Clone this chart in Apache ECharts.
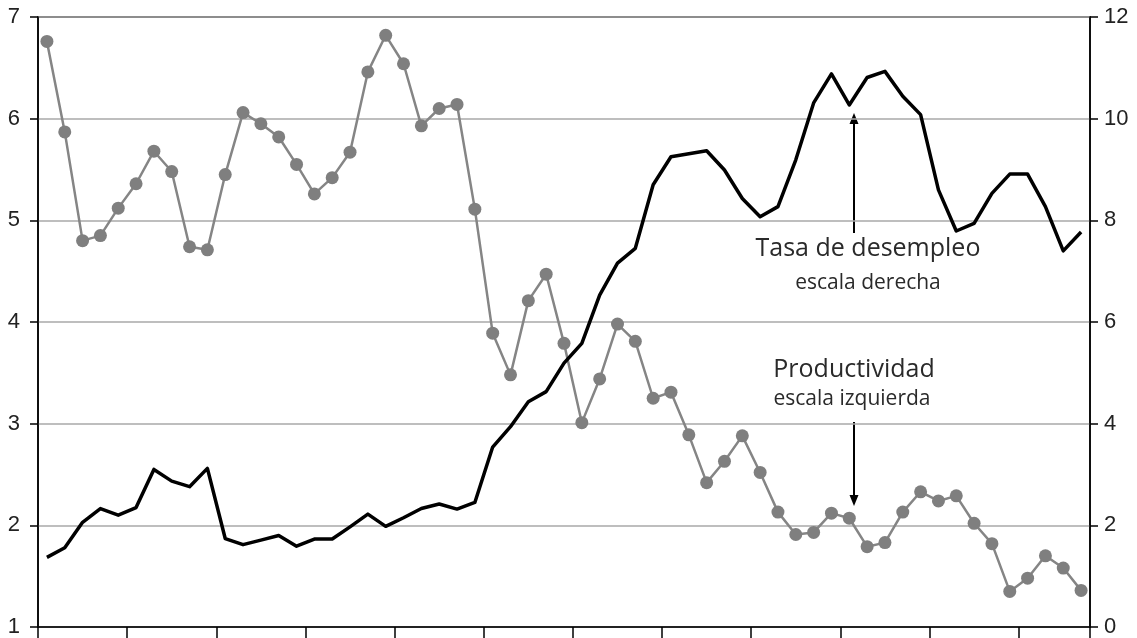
<!DOCTYPE html>
<html>
<head>
<meta charset="utf-8">
<script src="https://cdn.jsdelivr.net/npm/echarts@6/dist/echarts.min.js"></script>
<style>
html,body{margin:0;padding:0;background:#fff;}
#chart{width:1137px;height:638px;}
</style>
</head>
<body>
<div id="chart"></div>
<script>
// Periods (unlabelled on the x axis)
var periods = ["1","2","3","4","5","6","7","8","9","10","11","12","13","14","15","16","17","18","19","20",
"21","22","23","24","25","26","27","28","29","30","31","32","33","34","35","36","37","38","39","40",
"41","42","43","44","45","46","47","48","49","50","51","52","53","54","55","56","57","58","59"];

// Productividad (escala izquierda)
var productividad = [6.76,5.87,4.80,4.85,5.12,5.36,5.68,5.48,4.74,4.71,
5.45,6.06,5.95,5.82,5.55,5.26,5.42,5.67,6.46,6.82,
6.54,5.93,6.10,6.14,5.11,3.89,3.48,4.21,4.47,3.79,
3.01,3.44,3.98,3.81,3.25,3.31,2.89,2.42,2.63,2.88,
2.52,2.13,1.91,1.93,2.12,2.07,1.79,1.83,2.13,2.33,
2.24,2.29,2.02,1.82,1.35,1.48,1.70,1.58,1.36];

// Tasa de desempleo (escala derecha)
var desempleo = [1.37,1.56,2.06,2.33,2.20,2.35,3.10,2.87,2.76,3.12,
1.74,1.62,1.71,1.80,1.59,1.73,1.73,1.97,2.22,1.98,
2.15,2.33,2.42,2.32,2.45,3.54,3.94,4.43,4.63,5.19,
5.58,6.53,7.16,7.45,8.70,9.25,9.31,9.37,8.99,8.43,
8.07,8.27,9.19,10.31,10.88,10.27,10.81,10.93,10.44,10.08,
8.60,7.79,7.94,8.53,8.91,8.91,8.27,7.40,7.77];

var leftTicks = {min: 1, max: 7, interval: 1};
var rightTicks = {min: 0, max: 12, interval: 2};

var annFont = '"Open Sans", "Noto Sans", sans-serif';

var chart = echarts.init(document.getElementById('chart'), null, {renderer: 'canvas'});
var option = {
  animation: false,
  backgroundColor: '#fff',
  grid: {left: 38, right: 47, top: 17, bottom: 11, containLabel: false, show: true, borderColor: '#000', borderWidth: 1.5, backgroundColor: 'transparent'},
  xAxis: {
    type: 'category',
    data: periods,
    boundaryGap: true,
    axisLine: {show: true, lineStyle: {color: '#000', width: 1.5}},
    axisTick: {show: true, interval: 4, length: 11, alignWithLabel: false, lineStyle: {color: '#000', width: 1.5}},
    axisLabel: {show: false},
    splitLine: {show: false}
  },
  yAxis: [{
    type: 'value',
    position: 'left',
    min: leftTicks.min, max: leftTicks.max, interval: leftTicks.interval,
    axisLine: {show: true, lineStyle: {color: '#000', width: 1.5}},
    axisTick: {show: true, length: 8, lineStyle: {color: '#000', width: 1.5}},
    axisLabel: {color: '#222', fontSize: 22, fontFamily: '"Liberation Sans", Arial, sans-serif', margin: 18},
    splitLine: {show: true, lineStyle: {color: '#a8a8a8', width: 1.5}}
  }, {
    type: 'value',
    position: 'right',
    min: rightTicks.min, max: rightTicks.max, interval: rightTicks.interval,
    axisLine: {show: true, lineStyle: {color: '#000', width: 1.5}},
    axisTick: {show: true, length: 8, lineStyle: {color: '#000', width: 1.5}},
    axisLabel: {color: '#222', fontSize: 22, fontFamily: '"Liberation Sans", Arial, sans-serif', margin: 14},
    splitLine: {show: false}
  }],
  series: [{
    name: 'Productividad',
    type: 'line',
    yAxisIndex: 0,
    data: productividad,
    symbol: 'circle',
    symbolSize: 13,
    showAllSymbol: true,
    itemStyle: {color: '#7f7f7f'},
    lineStyle: {color: '#858585', width: 2.5},
    z: 2
  }, {
    name: 'Tasa de desempleo',
    type: 'line',
    yAxisIndex: 1,
    data: desempleo,
    symbol: 'none',
    lineStyle: {color: '#000', width: 3.5, join: 'round'},
    z: 3
  }],
  graphic: [
    {type: 'text', x: 868, y: 249, style: {text: 'Tasa de desempleo', font: '25px ' + annFont, fill: '#2a2a2a', textAlign: 'center', textVerticalAlign: 'middle'}},
    {type: 'text', x: 868, y: 283, style: {text: 'escala derecha', font: '21px ' + annFont, fill: '#2a2a2a', textAlign: 'center', textVerticalAlign: 'middle'}},
    {type: 'text', x: 854, y: 370, style: {text: 'Productividad', font: '25px ' + annFont, fill: '#2a2a2a', textAlign: 'center', textVerticalAlign: 'middle'}},
    {type: 'text', x: 852, y: 399, style: {text: 'escala izquierda', font: '21px ' + annFont, fill: '#2a2a2a', textAlign: 'center', textVerticalAlign: 'middle'}},
    {type: 'line', shape: {x1: 854, y1: 233, x2: 854, y2: 122}, style: {stroke: '#000', lineWidth: 2}},
    {type: 'polygon', shape: {points: [[854, 113], [849.5, 124], [858.5, 124]]}, style: {fill: '#000'}},
    {type: 'line', shape: {x1: 854, y1: 422, x2: 854, y2: 497}, style: {stroke: '#000', lineWidth: 2}},
    {type: 'polygon', shape: {points: [[854, 506], [849.5, 495], [858.5, 495]]}, style: {fill: '#000'}}
  ]
};
chart.setOption(option);
</script>
</body>
</html>
